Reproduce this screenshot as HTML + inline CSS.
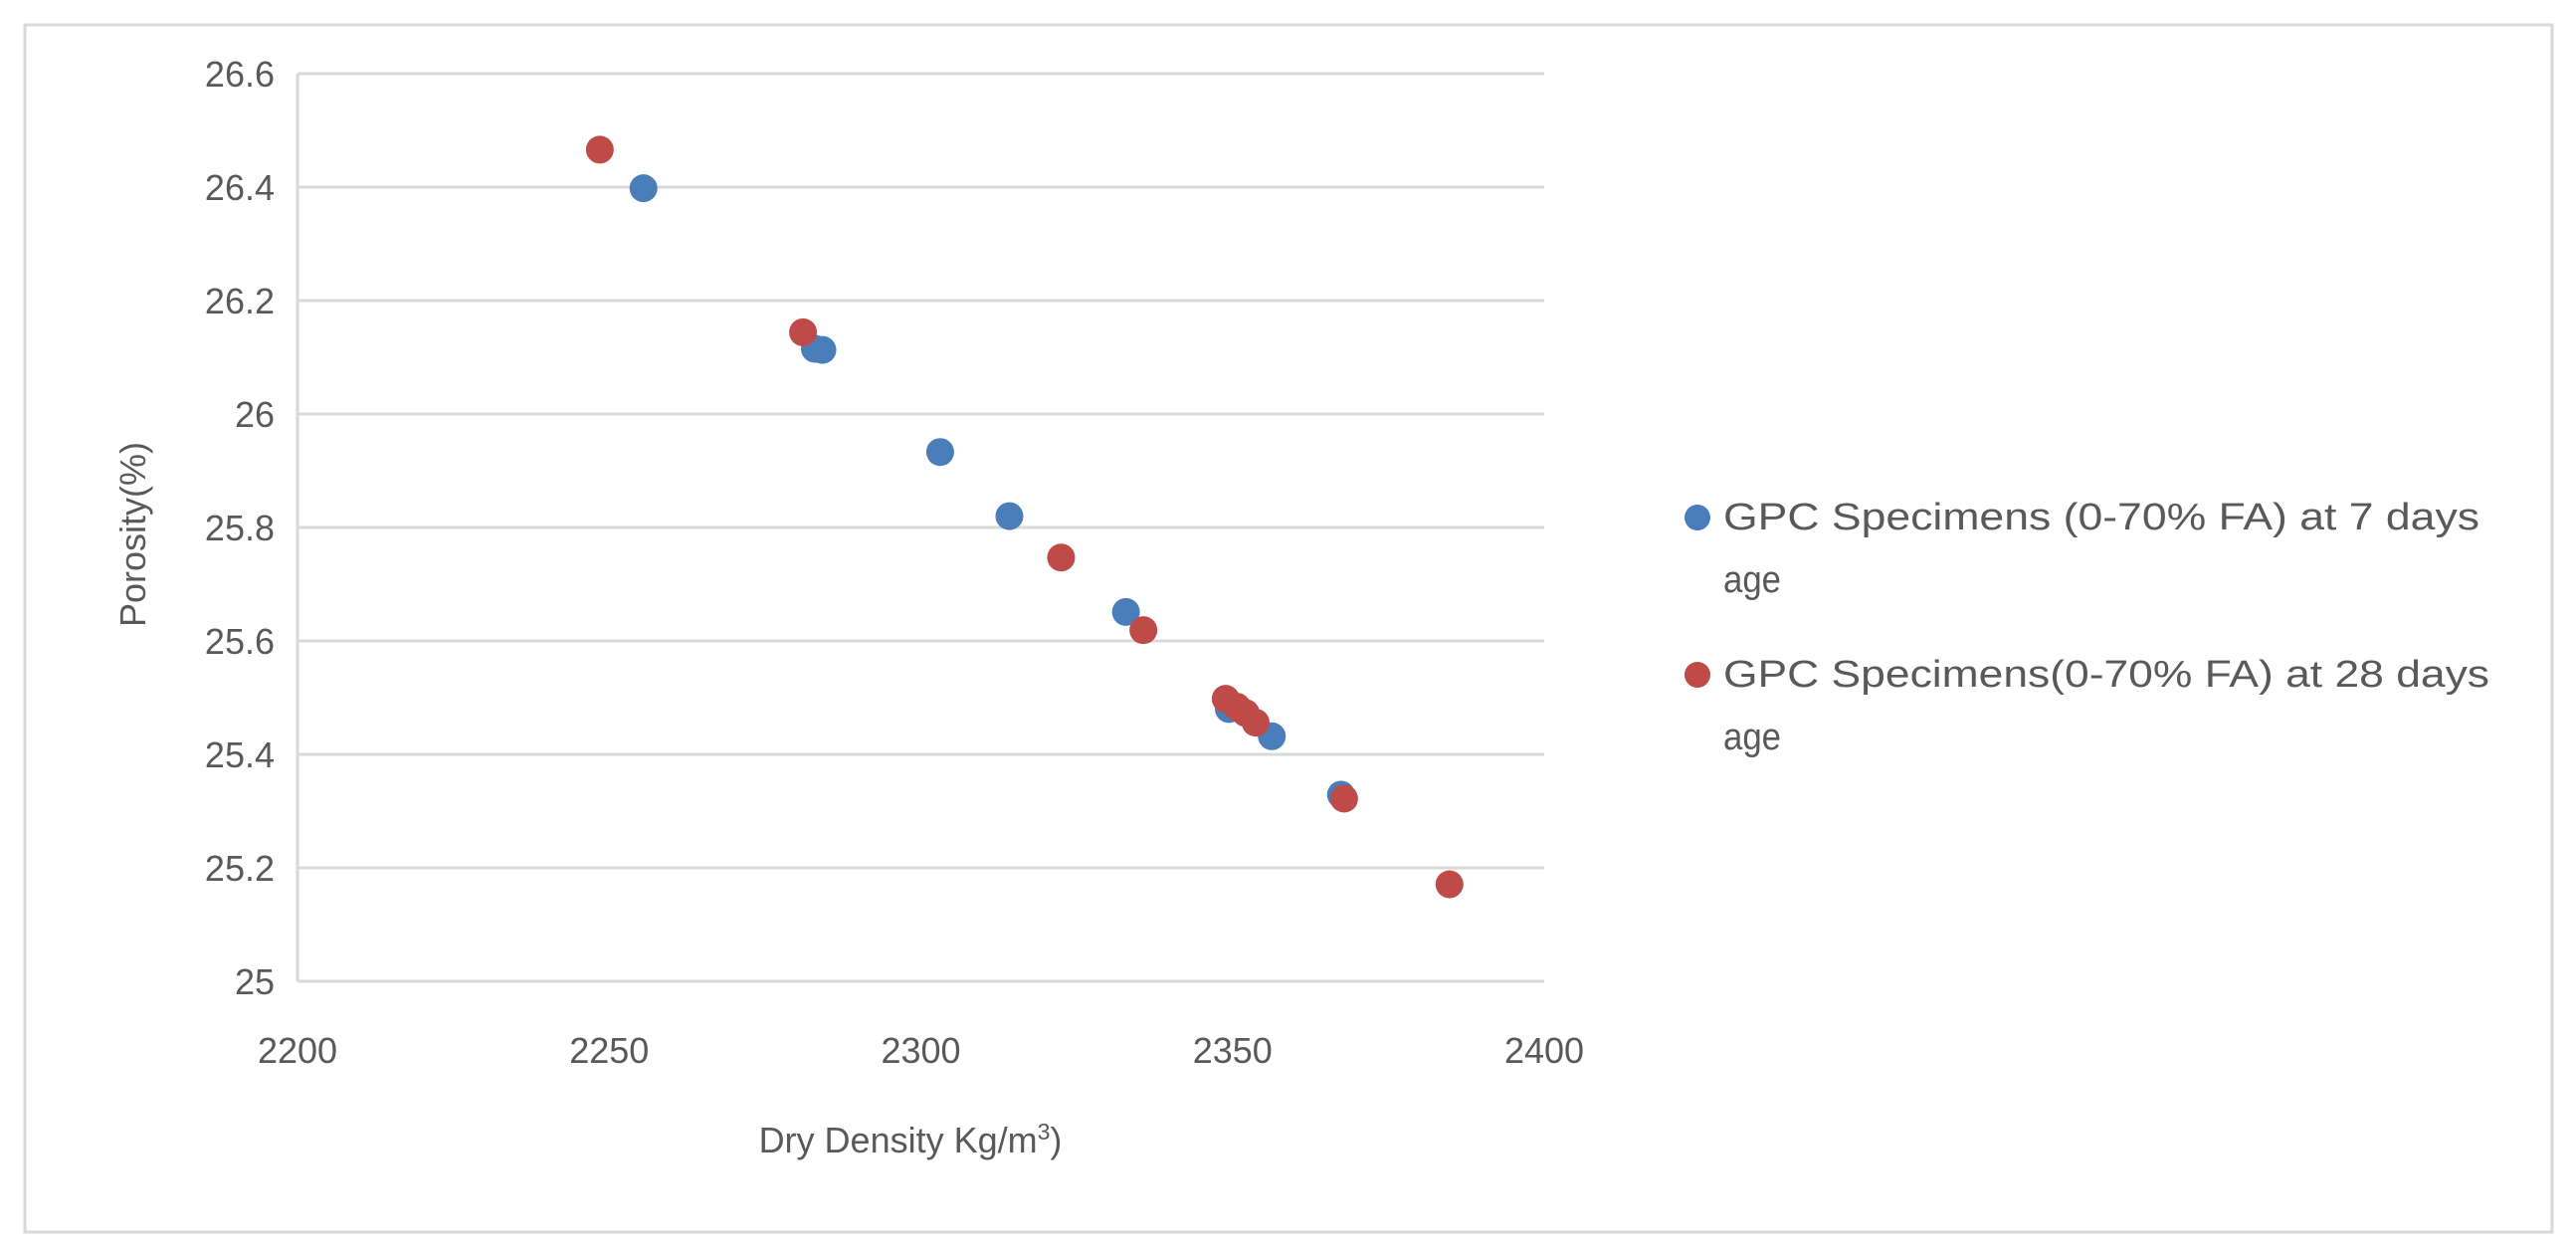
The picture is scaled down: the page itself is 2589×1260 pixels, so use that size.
<!DOCTYPE html>
<html><head><meta charset="utf-8"><style>
html,body{margin:0;padding:0;background:#fff}
svg{display:block;font-family:"Liberation Sans",sans-serif}
</style></head><body>
<svg id="chart" width="2589" height="1260" viewBox="0 0 2589 1260" xmlns="http://www.w3.org/2000/svg">
<rect x="25" y="25" width="2540" height="1213" fill="#fff" stroke="#d9d9d9" stroke-width="3"/>
<g id="grid"></g><g id="axes"></g><g id="marks"></g>
<text x="915" y="1158" font-size="36" fill="#595959" text-anchor="middle">Dry Density Kg/m<tspan font-size="23" dy="-13">3</tspan><tspan dy="13">)</tspan></text>
<text transform="translate(146,537) rotate(-90)" font-size="36" fill="#595959" text-anchor="middle">Porosity(%)</text>
<g>
<circle cx="1706" cy="520" r="13" fill="#4a7ebb"/>
<text x="1732" y="532" font-size="38" fill="#595959" textLength="760" lengthAdjust="spacingAndGlyphs">GPC Specimens (0-70% FA) at 7 days</text>
<text x="1732" y="595" font-size="38" fill="#595959" textLength="58" lengthAdjust="spacingAndGlyphs">age</text>
<circle cx="1706" cy="678" r="13" fill="#be4b48"/>
<text x="1732" y="690" font-size="38" fill="#595959" textLength="770" lengthAdjust="spacingAndGlyphs">GPC Specimens(0-70% FA) at 28 days</text>
<text x="1732" y="753" font-size="38" fill="#595959" textLength="58" lengthAdjust="spacingAndGlyphs">age</text>
</g>
</svg>
<script>
const xTicks=[2200,2250,2300,2350,2400];
const yTicks=[25,25.2,25.4,25.6,25.8,26,26.2,26.4,26.6];
const yTickLabels=["25","25.2","25.4","25.6","25.8","26","26.2","26.4","26.6"];
const x7=[2255.5,2283,2284.2,2303.1,2314.2,2332.9,2349.4,2356.3,2367.4];
const y7=[26.398,26.115,26.113,25.933,25.82,25.651,25.48,25.432,25.329];
const x28=[2248.5,2281.1,2322.5,2335.7,2348.9,2350.7,2352.1,2353.7,2367.9,2384.8];
const y28=[26.466,26.144,25.747,25.619,25.498,25.484,25.473,25.456,25.322,25.171];
const L=299,R=1552,T=74,B=986;
function sx(v){return L+(v-2200)/200*(R-L);}
function sy(v){return B-(v-25)/1.6*(B-T);}
const NS="http://www.w3.org/2000/svg";
const grid=document.getElementById('grid'),axes=document.getElementById('axes'),marks=document.getElementById('marks');
yTicks.forEach((t,i)=>{
 const l=document.createElementNS(NS,'line');
 
 
 l.setAttribute('x1',L);l.setAttribute('x2',R);l.setAttribute('y1',sy(t));l.setAttribute('y2',sy(t));
 l.setAttribute('stroke','#d9d9d9');l.setAttribute('stroke-width','3');grid.appendChild(l);
 const tx=document.createElementNS(NS,'text');
 
 
 tx.setAttribute('x',276);tx.setAttribute('y',sy(t)+13);tx.setAttribute('text-anchor','end');
 tx.setAttribute('font-size','36');tx.setAttribute('fill','#595959');tx.textContent=yTickLabels[i];axes.appendChild(tx);
});
const ax=document.createElementNS(NS,'line');


ax.setAttribute('x1',L);ax.setAttribute('x2',L);ax.setAttribute('y1',T);ax.setAttribute('y2',B);
ax.setAttribute('stroke','#d9d9d9');ax.setAttribute('stroke-width','3');grid.appendChild(ax);
xTicks.forEach(t=>{
 const tx=document.createElementNS(NS,'text');
 
 
 tx.setAttribute('x',sx(t));tx.setAttribute('y',1068);tx.setAttribute('text-anchor','middle');
 tx.setAttribute('font-size','36');tx.setAttribute('fill','#595959');tx.textContent=t;axes.appendChild(tx);
});
function draw(xs,ys,color,name){
 xs.forEach((v,i)=>{
  const c=document.createElementNS(NS,'circle');
  
  
  c.setAttribute('cx',sx(v));c.setAttribute('cy',sy(ys[i]));c.setAttribute('r',14);c.setAttribute('fill',color);
  marks.appendChild(c);
 });
}
draw(x7,y7,'#4a7ebb','point-7days');
draw(x28,y28,'#be4b48','point-28days');
</script>
</body></html>
